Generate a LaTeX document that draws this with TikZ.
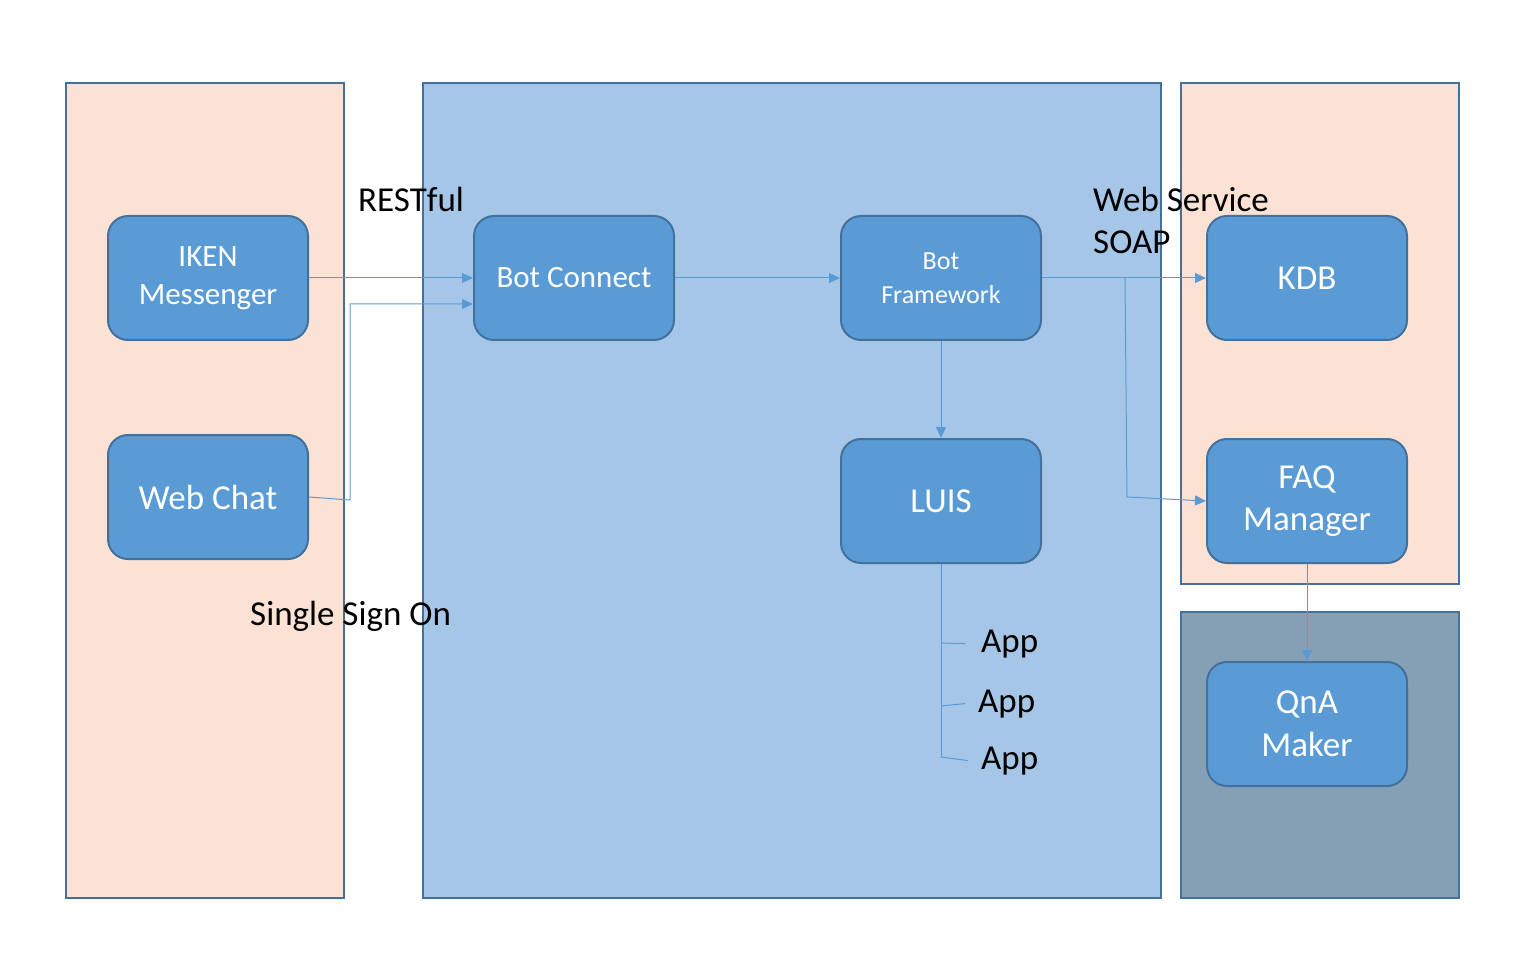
\documentclass[tikz,border=0pt]{standalone}
\usepackage{fontspec}
\setmainfont{Carlito}
\usetikzlibrary{arrows.meta}
\definecolor{peach}{HTML}{FBE2D4}
\definecolor{paleblue}{HTML}{A6C6E7}
\definecolor{slate}{HTML}{859FB5}
\definecolor{boxblue}{HTML}{5B9BD5}
\definecolor{edgeblue}{HTML}{41719C}

\begin{document}
\begin{tikzpicture}[x=1pt,y=-1pt,
        panel/.style={draw=edgeblue, line width=2pt},
        block/.style={draw=edgeblue, fill=boxblue, line width=2pt, rounded corners=20pt,
            minimum width=200pt, minimum height=124pt, inner sep=0pt, text=white,
            align=center, font=\fontsize{35}{42.7}\selectfont},
        link/.style={draw=boxblue, line width=1pt, -{Triangle[length=11pt,width=10pt]}},
        wire/.style={draw=boxblue, line width=1pt},
        note/.style={anchor=base west, inner sep=0pt, font=\fontsize{35}{42.7}\selectfont}]
        \useasboundingbox (0,0) rectangle (1536,957);
        \fill[white] (0,0) rectangle (1536,957);
        % panels
        \draw[panel, fill=peach] (66,83) rectangle (344,898);
        \draw[panel, fill=paleblue] (423,83) rectangle (1161,898);
        \draw[panel, fill=peach] (1181,83) rectangle (1459,584);
        \draw[panel, fill=slate] (1181,612) rectangle (1459,898);
        % boxes
        \node[block, font=\fontsize{31}{38}\selectfont] (iken) at (208,278) {IKEN\\Messenger};
        \node[block] (webchat) at (208,497) {Web Chat};
        \node[block, font=\fontsize{31}{38}\selectfont] (connect) at (574,278) {Bot Connect};
        \node[block, font=\fontsize{26}{34}\selectfont] (framework) at (941,278) {Bot\\Framework};
        \node[block] (luis) at (941,501) {LUIS};
        \node[block] (kdb) at (1307,278) {KDB};
        \node[block] (faq) at (1307,501) {FAQ\\Manager};
        \node[block] (qna) at (1307,724) {QnA\\Maker};
        % labels
        \node[note] (restful) at (358,212) {RESTful};
        \node[note] (websvc) at (1093,212) {Web Service};
        \node[note] (soap) at (1093,254) {SOAP};
        \node[note] (sso) at (250,625) {Single Sign On};
        \node[note] (app1) at (981,652) {App};
        \node[note] (app2) at (978,712) {App};
        \node[note] (app3) at (981,769) {App};
        % connectors
        \coordinate (ssobend) at (350,500);
        \coordinate (soapsplit) at (1125,278);
        \draw[link] (iken) -- (connect);
        \draw[link] (webchat.east) -- (ssobend) |- ([yshift=-26pt]connect.west);
        \draw[link] (connect) -- (framework);
        \draw[link] (framework) -- (kdb);
        \draw[link] (framework) -- (luis);
        \draw[link] (soapsplit) -- (1127,497) -- (faq.west);
        \draw[link] (faq) -- (qna);
        \draw[wire] (luis.south) -- (941,757);
        \draw[wire] (941,643) -- ([xshift=-16pt]app1.west);
        \draw[wire] (941,706) -- ([xshift=-13pt]app2.west);
        \draw[wire] (941,757) -- ([xshift=-13pt]app3.west);
    \end{tikzpicture}
\end{document}
